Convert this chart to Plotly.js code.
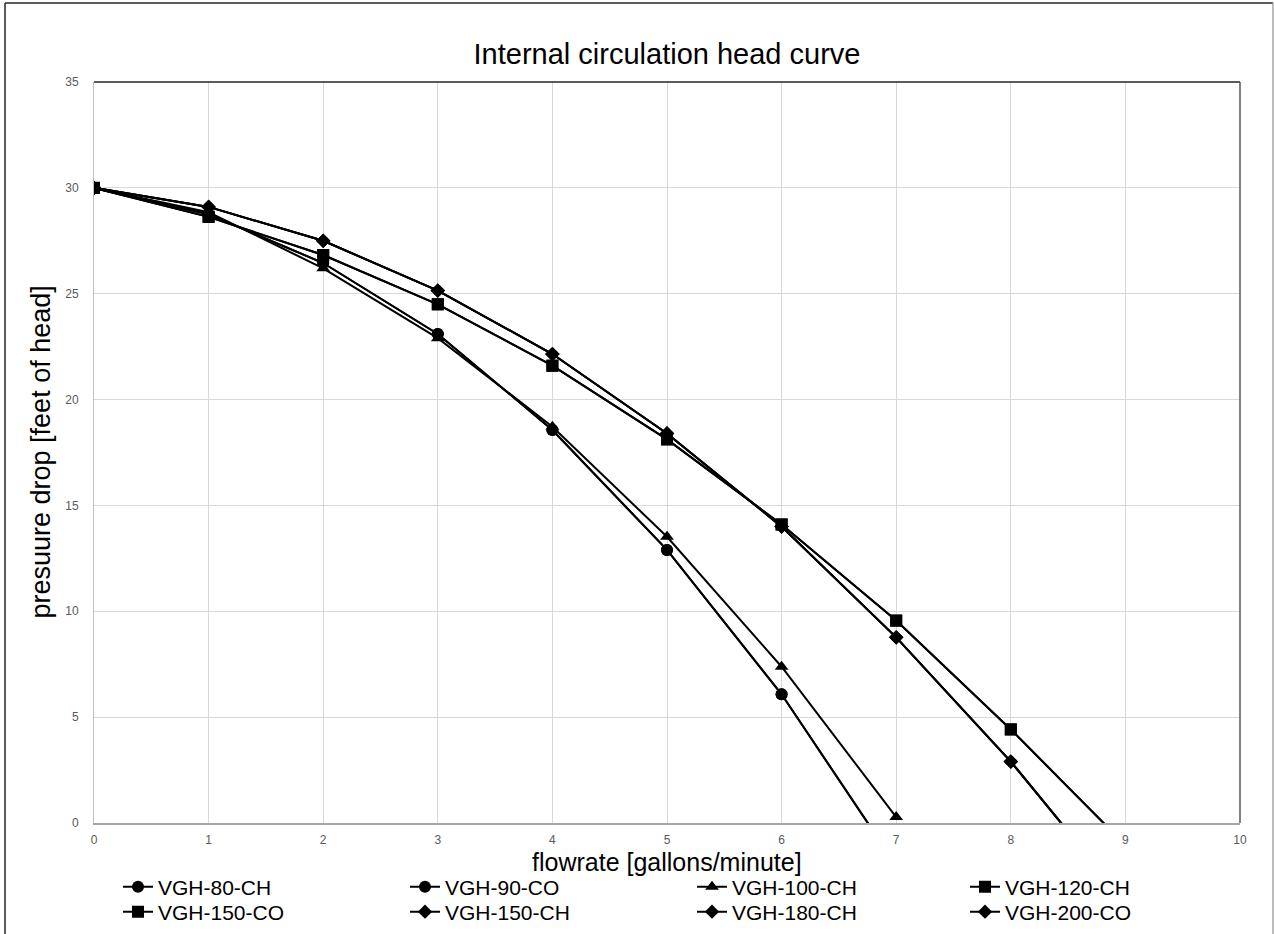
<!DOCTYPE html>
<html>
<head>
<meta charset="utf-8">
<script src="https://cdn.plot.ly/plotly-3.0.1.min.js"></script>
<style>html,body{margin:0;padding:0;background:#fff;}#chart{width:1274px;height:934px;}</style>
</head>
<body>
<div id="chart"></div>
<script>
// flowrate [gallons/minute]
const flowrate = [0, 1, 2, 3, 4, 5, 6, 7, 8, 9];
// pressure drop [feet of head] per model
const vgh80ch  = [30, 28.75, 26.45, 23.1, 18.56, 12.9, 6.08, -2.0];
const vgh90co  = [30, 28.75, 26.45, 23.1, 18.56, 12.9, 6.08, -2.0];
const vgh100ch = [30, 28.85, 26.2, 22.9, 18.72, 13.52, 7.38, 0.28];
const vgh120ch = [30, 28.63, 26.83, 24.5, 21.6, 18.12, 14.1, 9.56, 4.42, -1.04];
const vgh150co = [30, 28.63, 26.83, 24.5, 21.6, 18.12, 14.1, 9.56, 4.42, -1.04];
const vgh150ch = [30, 29.1, 27.5, 25.15, 22.15, 18.4, 14.0, 8.77, 2.9, -3.7];
const vgh180ch = [30, 29.1, 27.5, 25.15, 22.15, 18.4, 14.0, 8.77, 2.9, -3.7];
const vgh200co = [30, 29.1, 27.5, 25.15, 22.15, 18.4, 14.0, 8.77, 2.9, -3.7];

const seriesNames = ['VGH-80-CH','VGH-90-CO','VGH-100-CH','VGH-120-CH','VGH-150-CO','VGH-150-CH','VGH-180-CH','VGH-200-CO'];
const seriesValues = [vgh80ch, vgh90co, vgh100ch, vgh120ch, vgh150co, vgh150ch, vgh180ch, vgh200co];
const symbols = ['circle','circle','triangle-up','square','square','diamond','diamond','diamond'];
const sizes = [12, 12, 12, 12, 12, 11, 11, 11];

const xTitle = 'flowrate [gallons/minute]';
const yTitle = 'presuure drop [feet of head]';
const chartTitle = 'Internal circulation head curve';

const W = 1274, H = 934;
const L = 94, R = 1240, T = 82, B = 823;
const px = v => (v - L) / (R - L);
const py = v => (B - v) / (B - T);

const legCols = [118, 405, 692, 965];
const legRows = [887, 912];
const FONT = 'Liberation Sans, Arial, sans-serif';
const legFont = {family: FONT, size: 21, color: '#000'};

const traces = seriesNames.map((n, i) => ({
  x: flowrate.slice(0, seriesValues[i].length),
  y: seriesValues[i],
  name: n,
  type: 'scatter',
  mode: 'lines+markers',
  line: {color: '#000000', width: 2},
  marker: {symbol: symbols[i], size: sizes[i], color: '#000000'},
  legend: i === 0 ? 'legend' : 'legend' + (i + 1)
}));

const layout = {
  width: W, height: H,
  paper_bgcolor: '#ffffff', plot_bgcolor: '#ffffff',
  margin: {l: L, r: W - R, t: T, b: H - B, pad: 0, autoexpand: false},
  title: {text: chartTitle, x: 0.5, xref: 'paper', xanchor: 'center',
          y: 1 - 54 / H, yref: 'container', yanchor: 'middle', automargin: false,
          font: {family: FONT, size: 29, color: '#000'}},
  xaxis: {range: [0, 10], dtick: 1, tick0: 0, showgrid: true, gridcolor: '#d9d9d9', gridwidth: 1,
          zeroline: false, showline: true, linecolor: '#a6a6a6', linewidth: 2, ticks: '',
          ticklabelstandoff: 5, layer: 'below traces',
          tickfont: {family: FONT, size: 12, color: '#595959'}},
  yaxis: {range: [0, 35], dtick: 5, tick0: 0, showgrid: true, gridcolor: '#d9d9d9', gridwidth: 1,
          zeroline: false, showline: true, linecolor: '#bfbfbf', linewidth: 1, ticks: '',
          ticklabelstandoff: 12, layer: 'below traces',
          tickfont: {family: FONT, size: 12, color: '#595959'}},
  showlegend: true,
  annotations: [
    {text: xTitle, xref: 'paper', yref: 'paper', x: 0.5, y: py(862), xanchor: 'center', yanchor: 'middle',
     showarrow: false, font: {family: FONT, size: 25, color: '#000'}},
    {text: yTitle, xref: 'paper', yref: 'paper', x: px(40), y: 0.5, xanchor: 'center', yanchor: 'middle',
     textangle: -90, showarrow: false, font: {family: FONT, size: 27, color: '#000'}}
  ],
  shapes: [
    {type: 'line', xref: 'paper', yref: 'paper', x0: 0, x1: 1, y0: 1, y1: 1, line: {color: '#262626', width: 1.5}, layer: 'above'},
    {type: 'line', xref: 'paper', yref: 'paper', x0: 1, x1: 1, y0: 0, y1: 1, line: {color: '#595959', width: 1.5}, layer: 'above'},
    {type: 'line', xref: 'paper', yref: 'paper', x0: px(5), x1: px(5), y0: py(3), y1: py(940), line: {color: '#262626', width: 1.5}, layer: 'above'},
    {type: 'line', xref: 'paper', yref: 'paper', x0: px(5), x1: px(1273), y0: py(3), y1: py(3), line: {color: '#262626', width: 1.5}, layer: 'above'},
    {type: 'line', xref: 'paper', yref: 'paper', x0: px(1273), x1: px(1273), y0: py(3), y1: py(940), line: {color: '#a6a6a6', width: 1.5}, layer: 'above'}
  ]
};

seriesNames.forEach((n, i) => {
  const key = i === 0 ? 'legend' : 'legend' + (i + 1);
  layout[key] = {x: legCols[i % 4] / W, xref: 'container', y: 1 - legRows[Math.floor(i / 4)] / H, yref: 'container',
                 xanchor: 'left', yanchor: 'middle', orientation: 'v', font: legFont,
                 bgcolor: 'rgba(0,0,0,0)', itemwidth: 30, borderwidth: 0};
});

Plotly.newPlot('chart', traces, layout, {displayModeBar: false, staticPlot: true});
</script>
</body>
</html>
